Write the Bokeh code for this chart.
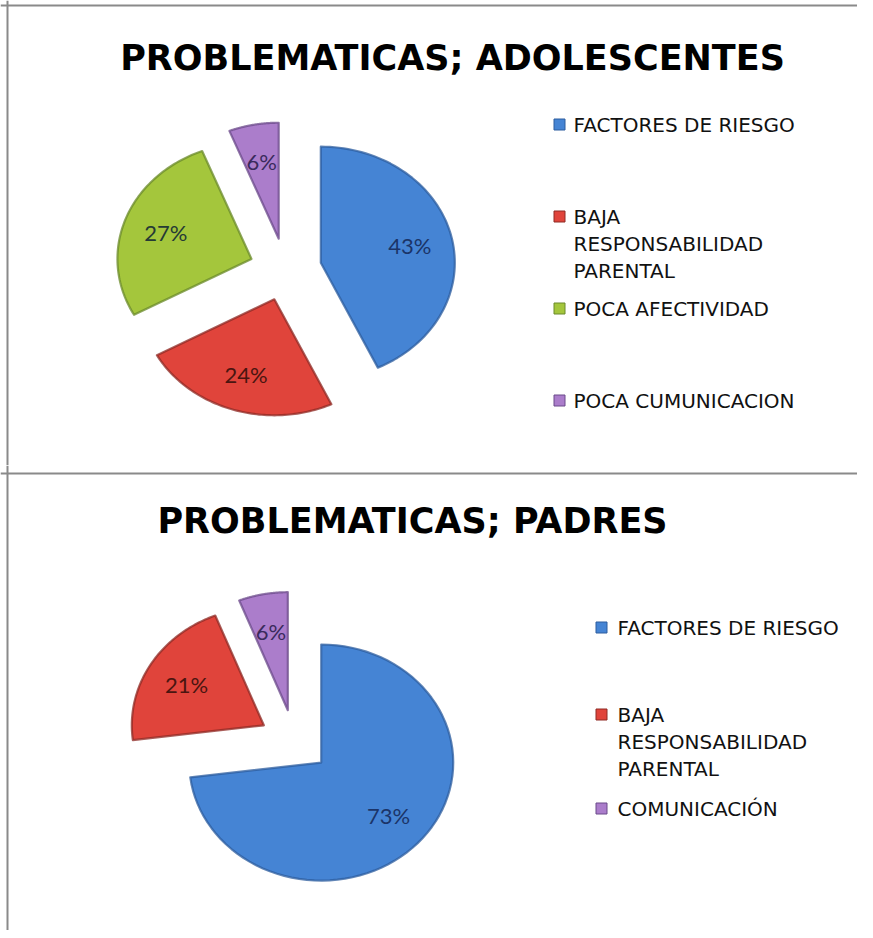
import numpy as np
from bokeh.plotting import figure
from bokeh.models import Range1d, Span
from bokeh.layouts import column
from bokeh.embed import file_html
from bokeh.resources import INLINE
from bokeh.core.properties import value

# ---------------- data ----------------
title_top = "PROBLEMATICAS; ADOLESCENTES"
cats_top = ["FACTORES DE RIESGO", "BAJA\nRESPONSABILIDAD\nPARENTAL",
            "POCA AFECTIVIDAD", "POCA CUMUNICACION"]
vals_top = [43, 24, 27, 6]
pct_top = ["43%", "24%", "27%", "6%"]

title_bot = "PROBLEMATICAS; PADRES"
cats_bot = ["FACTORES DE RIESGO", "BAJA\nRESPONSABILIDAD\nPARENTAL", "COMUNICACIÓN"]
vals_bot = [73, 21, 6]
pct_bot = ["73%", "21%", "6%"]

# ---------------- styles ----------------
C_BLUE, E_BLUE, T_BLUE = "#4584D4", "#2C5C9E", "#1B3468"
C_RED, E_RED, T_RED = "#E0443B", "#8E2A24", "#4A1510"
C_GREEN, E_GREEN, T_GREEN = "#A4C63C", "#6A8A2A", "#253A35"
C_PURP, E_PURP, T_PURP = "#AB7DCB", "#6B4A8A", "#3A2A5C"

fill_top = [C_BLUE, C_RED, C_GREEN, C_PURP]
edge_top = [E_BLUE, E_RED, E_GREEN, E_PURP]
txt_top = [T_BLUE, T_RED, T_GREEN, T_PURP]
fill_bot = [C_BLUE, C_RED, C_PURP]
edge_bot = [E_BLUE, E_RED, E_PURP]
txt_bot = [T_BLUE, T_RED, T_PURP]

W = 857
LEG_FONT = value("DejaVu Sans")
BORDER = "#8a8a8a"


def make_fig(h):
    p = figure(width=W, height=h, x_range=Range1d(0, W), y_range=Range1d(h, 0),
               output_backend="svg", toolbar_location=None,
               x_axis_location=None, y_axis_location=None,
               min_border=0, min_border_left=0, min_border_right=0,
               min_border_top=0, min_border_bottom=0)
    p.grid.visible = False
    p.outline_line_color = None
    p.background_fill_color = "white"
    p.border_fill_color = "white"
    return p


def draw_pie(p, vals, fills, edges, tcols, pcts, cx, cy, rx, ry, explode=0.27, lr=0.68):
    total = float(sum(vals))
    start = 0.0
    xs_all, ys_all = [], []
    lx, ly = [], []
    for v in vals:
        a0 = start / total * 2 * np.pi
        a1 = (start + v) / total * 2 * np.pi
        mid = 0.5 * (a0 + a1)
        ox = cx + explode * rx * np.sin(mid)
        oy = cy - explode * ry * np.cos(mid)
        th = np.linspace(a0, a1, 80)
        xs = [ox] + list(ox + rx * np.sin(th)) + [ox]
        ys = [oy] + list(oy - ry * np.cos(th)) + [oy]
        xs_all.append(xs)
        ys_all.append(ys)
        lx.append(ox + lr * rx * np.sin(mid))
        ly.append(oy - lr * ry * np.cos(mid))
        start += v
    p.patches(xs_all, ys_all, fill_color=fills, line_color=edges, line_width=2.2,
              line_alpha=0.75, line_join="round")
    p.text(lx, ly, text=pcts, text_color=tcols, text_font=value("Lato"),
           text_font_size="22px", text_align="center", text_baseline="middle")


def draw_legend(p, cats, fills, edges, sx, tx, ys, line_h=27):
    p.scatter([sx] * len(cats), ys, marker="square", size=11,
              fill_color=fills, line_color=edges, line_width=1)
    tx_l, ty_l, tt = [], [], []
    for c, y in zip(cats, ys):
        for i, line in enumerate(c.split("\n")):
            tx_l.append(tx)
            ty_l.append(y + i * line_h)
            tt.append(line)
    p.text(tx_l, ty_l, text=tt, text_color="#111111", text_font=LEG_FONT,
           text_font_size="20px", text_align="left", text_baseline="middle")


# ---------------- top chart ----------------
H1 = 465
p1 = make_fig(H1)
p1.add_layout(Span(location=5, dimension="width", line_color=BORDER, line_width=2))
p1.add_layout(Span(location=7, dimension="height", line_color=BORDER, line_width=2))
p1.text([452], [57], text=[title_top], text_font=value("DejaVu Sans"), text_font_style="bold",
        text_font_size="35px", text_color="black", text_align="center", text_baseline="middle")
draw_pie(p1, vals_top, fill_top, edge_top, txt_top, pct_top, 285, 269, 134, 116)
draw_legend(p1, cats_top, fill_top, edge_top, 559, 573, [124, 216, 308, 400])

# ---------------- bottom chart ----------------
H2 = 465
p2 = make_fig(H2)
p2.add_layout(Span(location=8, dimension="width", line_color=BORDER, line_width=2))
p2.add_layout(Span(location=7, dimension="height", line_color=BORDER, line_width=2))
p2.text([412], [55], text=[title_bot], text_font=value("DejaVu Sans"), text_font_style="bold",
        text_font_size="35px", text_color="black", text_align="center", text_baseline="middle")
draw_pie(p2, vals_bot, fill_bot, edge_bot, txt_bot, pct_bot, 294, 276, 132, 118)
draw_legend(p2, cats_bot, fill_bot, edge_bot, 601, 617, [162, 249, 343])

layout = column(p1, p2, spacing=0)
open("out.html", "w").write(file_html(layout, INLINE))
